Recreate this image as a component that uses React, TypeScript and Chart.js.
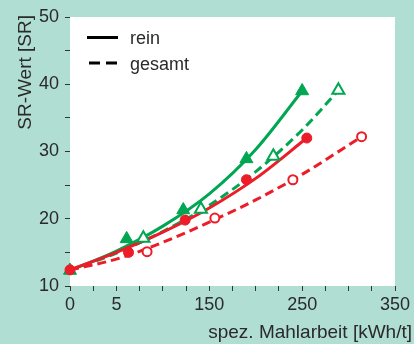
import React, { useEffect, useRef } from 'react';
import { Chart, registerables } from 'chart.js';

Chart.register(...registerables);

// Measured points: specific refining energy [kWh/t] vs. SR value
const greenReinX = [0, 61, 122, 190, 250];
const greenReinY = [12.3, 17.0, 21.3, 28.9, 39.0];
const greenGesamtX = [79, 141, 219, 289];
const greenGesamtY = [17.1, 21.4, 29.3, 39.1];
const redReinX = [0, 63, 124, 190, 255];
const redReinY = [12.4, 15.0, 19.8, 25.8, 32.0];
const redGesamtX = [83, 156, 240, 314];
const redGesamtY = [15.1, 20.1, 25.8, 32.2];

// Fitted trend curves
const greenReinCurveX = [0, 50, 100, 150, 200, 250];
const greenReinCurveY = [12.3, 15.2, 18.9, 23.7, 30.3, 39.0];
const greenGesamtCurveX = [0, 50, 100, 150, 200, 250, 289];
const greenGesamtCurveY = [12.3, 14.9, 18.1, 22.0, 27.0, 33.2, 39.1];
const redReinCurveX = [0, 50, 100, 150, 200, 255];
const redReinCurveY = [12.4, 15.0, 18.0, 21.6, 26.0, 32.0];
const redGesamtCurveX = [0, 50, 100, 150, 200, 250, 314];
const redGesamtCurveY = [12.4, 14.0, 16.5, 19.5, 22.8, 26.6, 32.2];

const xTickLabels: Record<number, string> = { 0: '0', 50: '5', 150: '150', 250: '250', 350: '350' };
const yTickLabels = [10, 20, 30, 40, 50];
const legendLabels = ['rein', 'gesamt'];
const xTitle = 'spez. Mahlarbeit [kWh/t]';
const yTitle = 'SR-Wert [SR]';

const GREEN = '#00a651';
const RED = '#ec1c28';
const MINT = '#b1ded3';
const INK = '#2a2a2a';
const FONT = '"Liberation Sans", Arial, sans-serif';

const toPoints = (xs: number[], ys: number[]) => xs.map((x, i) => ({ x, y: ys[i] }));

const decorPlugin = {
  id: 'decor',
  beforeDraw(chart: any) {
    const { ctx, chartArea: a } = chart;
    ctx.save();
    ctx.fillStyle = MINT;
    ctx.fillRect(0, 0, chart.width, chart.height);
    ctx.fillStyle = '#ffffff';
    ctx.fillRect(a.left, a.top, a.right - a.left, a.bottom - a.top);
    ctx.restore();
  },
  afterDraw(chart: any) {
    const { ctx, chartArea: a } = chart;
    ctx.save();
    ctx.fillStyle = INK;
    ctx.strokeStyle = '#000';

    // axis titles
    ctx.font = `19px ${FONT}`;
    ctx.textAlign = 'right';
    ctx.textBaseline = 'alphabetic';
    ctx.fillText(xTitle, chart.width - 2, chart.height - 6);
    ctx.save();
    ctx.translate(30.5, 15);
    ctx.rotate(-Math.PI / 2);
    ctx.fillText(yTitle, 0, 0);
    ctx.restore();

    // legend
    const dashes = [[], [11, 6]];
    const starts = [17, 19];
    ctx.font = `18px ${FONT}`;
    ctx.textAlign = 'left';
    legendLabels.forEach((label, i) => {
      const y = a.top + 20.5 + i * 25.5;
      ctx.beginPath();
      ctx.lineWidth = 3;
      ctx.setLineDash(dashes[i]);
      ctx.moveTo(a.left + starts[i], y);
      ctx.lineTo(a.left + 48, y);
      ctx.stroke();
      ctx.setLineDash([]);
      ctx.fillText(label, a.left + 60, y + 6.5);
    });
    ctx.restore();
  },
};

const markers = (data: { x: number; y: number }[], style: string, radius: number, color: string, filled: boolean) => ({
  data,
  showLine: false,
  pointStyle: style,
  pointRadius: radius,
  pointBackgroundColor: filled ? color : '#ffffff',
  pointBorderColor: color,
  pointBorderWidth: filled ? 1 : 2,
  clip: false,
});

const curve = (data: { x: number; y: number }[], color: string, dashed: boolean) => ({
  data,
  showLine: true,
  borderColor: color,
  borderWidth: 3,
  borderDash: dashed ? [9, 5] : [],
  cubicInterpolationMode: 'monotone',
  pointRadius: 0,
  clip: false,
});

export default function App() {
  const canvasRef = useRef<HTMLCanvasElement | null>(null);

  useEffect(() => {
    document.body.style.margin = '0';
    document.body.style.background = MINT;
    const canvas = canvasRef.current;
    if (!canvas) return;

    const tickFont = { family: FONT, size: 18 };
    const gridStyle = {
      display: true,
      drawOnChartArea: false,
      drawTicks: true,
      tickLength: 5,
      tickColor: '#333',
      tickWidth: 1,
    };

    const chart = new Chart(canvas, {
      type: 'scatter',
      data: {
        datasets: [
          markers(toPoints(redReinX, redReinY), 'circle', 5, RED, true),
          markers(toPoints(redGesamtX, redGesamtY), 'circle', 4.5, RED, false),
          markers(toPoints(greenReinX, greenReinY), 'triangle', 7.5, GREEN, true),
          markers(toPoints(greenGesamtX, greenGesamtY), 'triangle', 7, GREEN, false),
          curve(toPoints(redReinCurveX, redReinCurveY), RED, false),
          curve(toPoints(redGesamtCurveX, redGesamtCurveY), RED, true),
          curve(toPoints(greenReinCurveX, greenReinCurveY), GREEN, false),
          curve(toPoints(greenGesamtCurveX, greenGesamtCurveY), GREEN, true),
        ],
      },
      options: {
        animation: false,
        responsive: false,
        devicePixelRatio: 1,
        layout: { padding: { left: 0, top: 17, right: 19, bottom: 0 } },
        plugins: {
          legend: { display: false },
          tooltip: { enabled: false },
          title: { display: false },
        },
        scales: {
          x: {
            type: 'linear',
            min: 0,
            max: 350,
            border: { display: false },
            grid: gridStyle,
            afterFit: (scale: any) => {
              scale.height = 58;
            },
            afterBuildTicks: (scale: any) => {
              const ticks = [];
              for (let v = 0; v <= 350; v += 25) ticks.push({ value: v });
              scale.ticks = ticks;
            },
            ticks: {
              autoSkip: false,
              maxRotation: 0,
              padding: 3,
              color: INK,
              font: tickFont,
              callback: (v: any) => xTickLabels[Number(v)] ?? '',
            },
          },
          y: {
            type: 'linear',
            min: 10,
            max: 50,
            border: { display: false },
            grid: gridStyle,
            afterFit: (scale: any) => {
              scale.width = 70;
            },
            afterBuildTicks: (scale: any) => {
              const ticks = [];
              for (let v = 10; v <= 50; v += 5) ticks.push({ value: v });
              scale.ticks = ticks;
            },
            ticks: {
              autoSkip: false,
              padding: 6,
              color: INK,
              font: tickFont,
              callback: (v: any) => (yTickLabels.includes(Number(v)) ? String(v) : ''),
            },
          },
        },
      },
      plugins: [decorPlugin],
    } as any);

    return () => chart.destroy();
  }, []);

  return (
    <div style={{ width: 414, height: 344, background: MINT }}>
      <canvas ref={canvasRef} width={414} height={344} style={{ display: 'block', width: 414, height: 344 }} />
    </div>
  );
}
